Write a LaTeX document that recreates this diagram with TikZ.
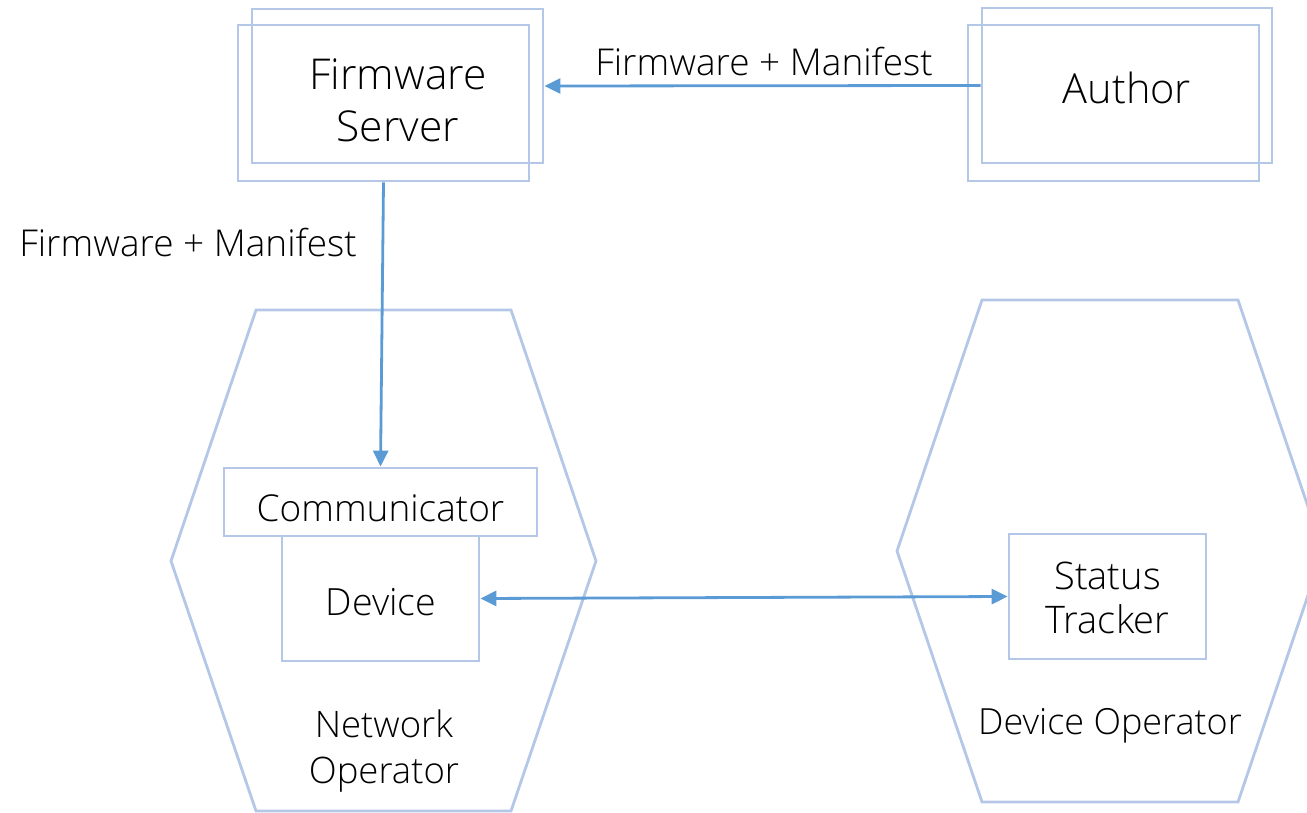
\documentclass[tikz,border=0pt]{standalone}
\usepackage{fontspec}
\IfFontExistsTF{Open Sans Light}{\setmainfont{Open Sans Light}}{\setmainfont{Open Sans}}
\usetikzlibrary{arrows.meta}
\definecolor{boxc}{RGB}{180,199,231}
\definecolor{linkc}{RGB}{91,155,213}
\tikzset{
  box/.style={draw=boxc, line width=2.8pt, inner sep=0pt},
  txt/.style={align=center, inner sep=0pt, text=black},
  link/.style={draw=linkc, line width=2.8pt, -{Triangle[length=16pt,width=15pt]}},
  biline/.style={draw=linkc, line width=2.8pt, {Triangle[length=16pt,width=15pt]}-{Triangle[length=16pt,width=15pt]}},
  hexa/.style={draw=boxc, line width=2.8pt, line join=miter}
}
\begin{document}
\begin{tikzpicture}[x=1pt,y=-1pt]
\useasboundingbox (0,0) rectangle (1307,813);

% Firmware server (stacked pair)
\node[box, minimum width=291pt, minimum height=154pt] (fsback) at (397.5,86) {};
\node[box, minimum width=291pt, minimum height=156pt] (fs) at (383.5,103) {};
\node[txt, font=\fontsize{42.5}{52}\selectfont] (fslabel) at (398,100) {Firmware\\Server};

% Author (stacked pair)
\node[box, minimum width=290pt, minimum height=155pt] (aback) at (1127,85.5) {};
\node[box, minimum width=291pt, minimum height=156pt] (auth) at (1113.5,103) {};
\node[txt, font=\fontsize{41.5}{52}\selectfont] (alabel) at (1127,88) {Author};

% Network operator hexagon
\draw[hexa] (256,310) -- (511,310) -- (596,561) -- (511,811) -- (256,811) -- (171,561) -- cycle;
\node[txt, font=\fontsize{36.5}{46}\selectfont] (netop) at (384,751) {Network\\Operator};
\node[box, minimum width=313pt, minimum height=68pt] (comm) at (380.5,502) {};
\node[txt, font=\fontsize{37}{40}\selectfont] (commlabel) at (380.5,508) {Communicator};
\node[box, minimum width=197pt, minimum height=125pt] (dev) at (380.5,598.5) {};
\node[txt, font=\fontsize{37.5}{40}\selectfont] (devlabel) at (381,602) {Device};

% Device operator hexagon
\draw[hexa] (982,300) -- (1238,300) -- (1323,551) -- (1238,802) -- (982,802) -- (897,551) -- cycle;
\node[txt, font=\fontsize{36}{40}\selectfont] (devop) at (1110,726) {Device Operator};
\node[box, minimum width=197pt, minimum height=125pt] (st) at (1107.5,596.5) {};
\node[txt, font=\fontsize{38}{44}\selectfont] (stlabel) at (1107.5,598) {Status\\Tracker};

% Connectors
\draw[link] (aback.west) -- (fsback.east);
\node[txt, font=\fontsize{37}{40}\selectfont] (toplabel) at (764,62) {Firmware + Manifest};
\draw[link] (fs.south) -- (comm.north);
\node[txt, font=\fontsize{37}{40}\selectfont] (leftlabel) at (188,243) {Firmware + Manifest};
\draw[biline] (dev.east) -- (st.west);
\end{tikzpicture}
\end{document}
